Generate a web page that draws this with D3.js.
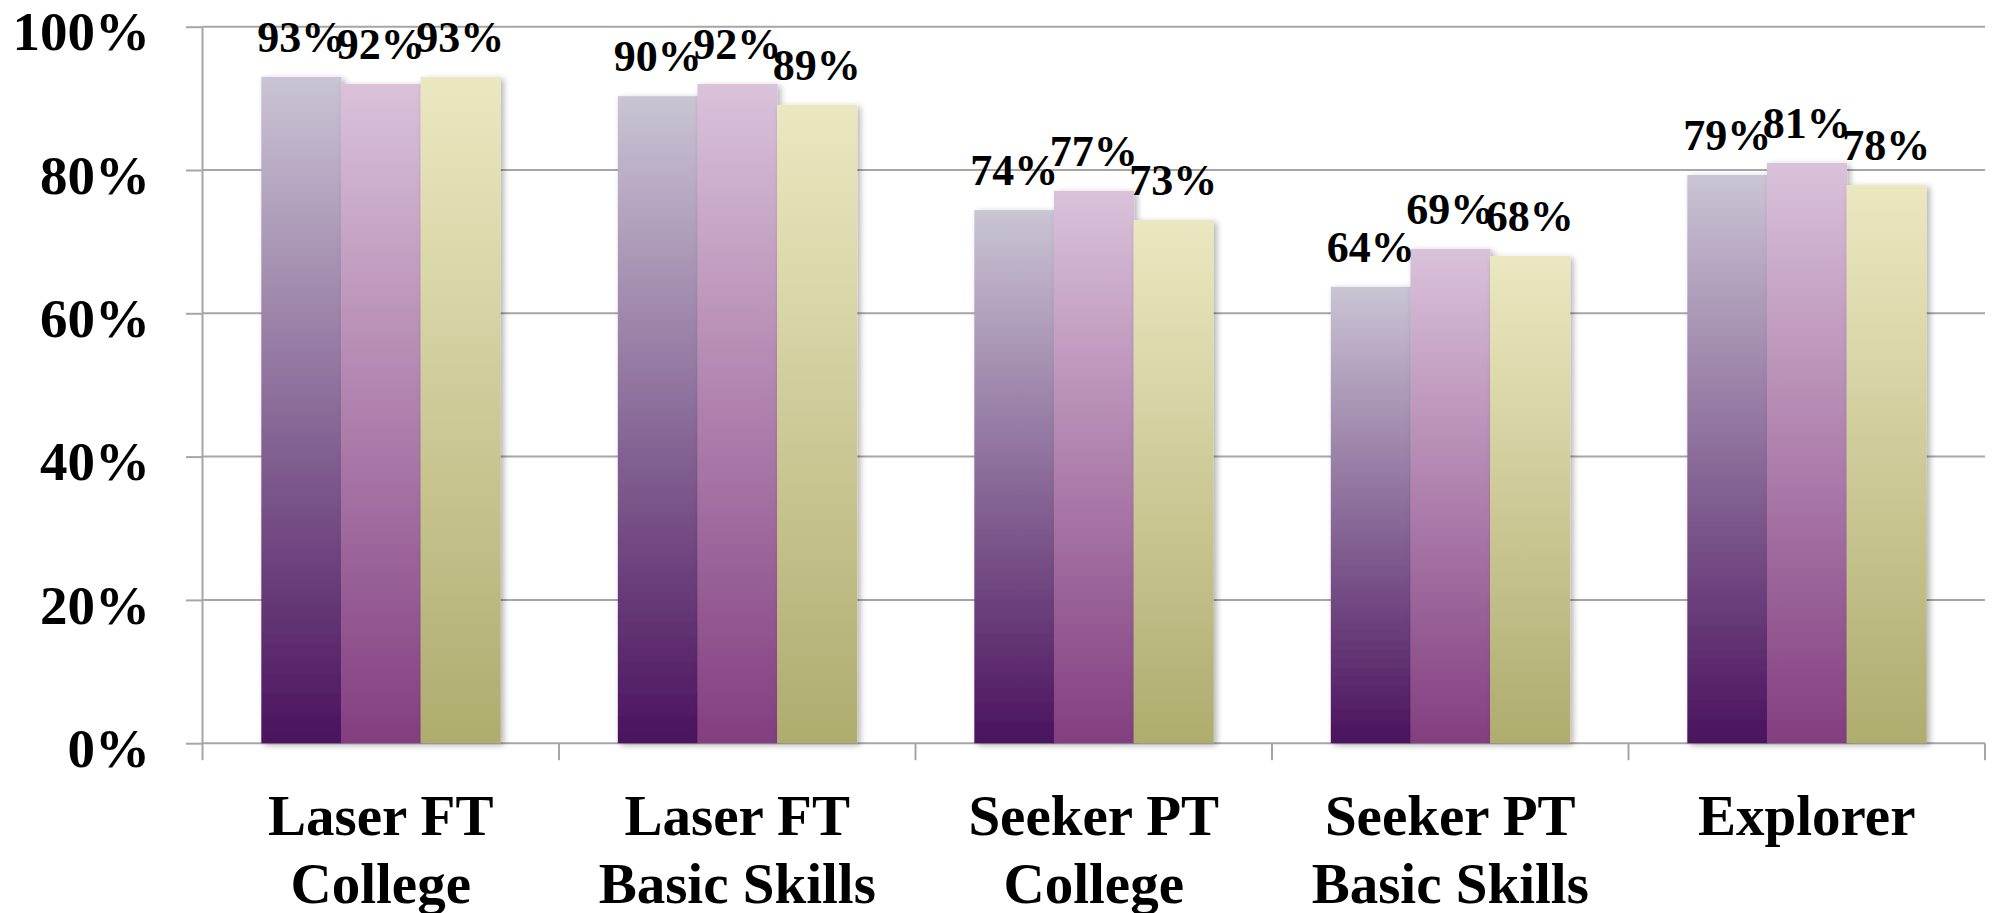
<!DOCTYPE html>
<html>
<head>
<meta charset="utf-8">
<script src="https://cdn.jsdelivr.net/npm/d3@7"></script>
<style>
  html, body { margin: 0; padding: 0; background: #fff; }
  text { font-family: 'Liberation Serif', 'Times New Roman', serif; font-weight: bold; fill: #000; }
</style>
</head>
<body>
<div id="chart"></div>
<script>
// categories and the three series
var categories = [['Laser FT', 'College'], ['Laser FT', 'Basic Skills'], ['Seeker PT', 'College'], ['Seeker PT', 'Basic Skills'], ['Explorer']]
var seriesNames = ['s1', 's2', 's3']
var series1 = [0.93, 0.903, 0.744, 0.637, 0.793]
var series2 = [0.92, 0.92, 0.771, 0.69, 0.81]
var series3 = [0.93, 0.891, 0.73, 0.68, 0.779]
var yTicks = [0, 0.2, 0.4, 0.6, 0.8, 1]

var colors = [
  { top: '#cac4d4', bottom: '#4a125d' },
  { top: '#dac2da', bottom: '#833e80' },
  { top: '#ebe8c1', bottom: '#afac6f' }
]

;(function () {
  var width = 1993
  var height = 913
  var plotLeft = 202.5
  var plotRight = 1985
  var plotTop = 26.7
  var plotBottom = 743.2

  var svg = d3.select('#chart')
    .append('svg')
    .attr('width', width)
    .attr('height', height)

  var defs = svg.append('defs')
  colors.forEach(function (c, i) {
    var g = defs.append('linearGradient')
      .attr('id', 'grad' + i)
      .attr('x1', 0).attr('y1', 0).attr('x2', 0).attr('y2', 1)
    g.append('stop').attr('offset', '0%').attr('stop-color', c.top)
    g.append('stop').attr('offset', '100%').attr('stop-color', c.bottom)
  })
  defs.append('filter')
    .attr('id', 'shadow')
    .attr('x', '-10%').attr('y', '-10%').attr('width', '130%').attr('height', '120%')
    .append('feDropShadow')
    .attr('dx', 3).attr('dy', 2).attr('stdDeviation', 3)
    .attr('flood-color', '#000').attr('flood-opacity', 0.3)

  var keys = categories.map(function (c) { return c.join(' ') })

  var x0 = d3.scaleBand()
    .domain(keys)
    .range([plotLeft, plotRight])
    .paddingInner(0.33)
    .paddingOuter(0.165)

  var x1 = d3.scaleBand()
    .domain(seriesNames)
    .range([0, x0.bandwidth()])

  var y = d3.scaleLinear()
    .domain([0, 1])
    .range([plotBottom, plotTop])

  // gridlines
  svg.append('g')
    .selectAll('line')
    .data(yTicks)
    .enter().append('line')
    .attr('x1', plotLeft)
    .attr('x2', plotRight)
    .attr('y1', d => y(d))
    .attr('y2', d => y(d))
    .attr('stroke', '#a6a6a6')
    .attr('stroke-width', 2)

  // y axis
  var yAxis = d3.axisLeft(y)
    .tickValues(yTicks)
    .tickFormat(d3.format('.0%'))
    .tickSize(16.5)
    .tickPadding(36)

  var yG = svg.append('g')
    .attr('transform', 'translate(' + plotLeft + ',0)')
    .call(yAxis)
  yG.select('.domain').remove()
  yG.selectAll('line').attr('stroke', '#a6a6a6').attr('stroke-width', 2)
  yG.selectAll('text')
    .attr('font-family', null)
    .attr('font-size', null)
    .style('font-size', '55px')
    .attr('dy', '0.42em')

  // y axis line, running down past the baseline
  svg.append('line')
    .attr('x1', plotLeft).attr('x2', plotLeft)
    .attr('y1', y(1)).attr('y2', y(0) + 17)
    .attr('stroke', '#a6a6a6')
    .attr('stroke-width', 2)

  // category boundary ticks
  var step = x0.step()
  var bounds = keys.map(function (k) { return x0(k) - step * x0.paddingInner() / 2 })
  bounds.push(plotRight)
  svg.append('g')
    .selectAll('line')
    .data(bounds.slice(1))
    .enter().append('line')
    .attr('x1', d => d).attr('x2', d => d)
    .attr('y1', y(0)).attr('y2', y(0) + 17)
    .attr('stroke', '#a6a6a6')
    .attr('stroke-width', 2)

  // bars
  var data = keys.map(function (k, i) {
    return { key: k, values: [series1[i], series2[i], series3[i]] }
  })

  var groups = svg.append('g')
    .selectAll('g')
    .data(data)
    .enter().append('g')
    .attr('transform', d => 'translate(' + x0(d.key) + ',0)')

  groups.selectAll('rect')
    .data(d => d.values.map(function (v, i) { return { s: seriesNames[i], i: i, v: v } }))
    .enter().append('rect')
    .attr('x', d => x1(d.s))
    .attr('y', d => y(d.v))
    .attr('width', x1.bandwidth() + 0.5)
    .attr('height', d => y(0) - y(d.v))
    .attr('fill', d => 'url(#grad' + d.i + ')')
    .attr('filter', 'url(#shadow)')

  groups.selectAll('text')
    .data(d => d.values.map(function (v, i) { return { s: seriesNames[i], v: v } }))
    .enter().append('text')
    .attr('x', d => x1(d.s) + x1.bandwidth() / 2)
    .attr('y', d => y(d.v) - 25)
    .attr('text-anchor', 'middle')
    .style('font-size', '44px')
    .text(d => Math.round(d.v * 100) + '%')

  // category labels
  var labels = svg.append('g')
    .selectAll('text')
    .data(categories)
    .enter().append('text')
    .attr('text-anchor', 'middle')
    .style('font-size', '57px')
    .attr('transform', (d, i) => 'translate(' + (x0(keys[i]) + x0.bandwidth() / 2) + ',835)')

  labels.selectAll('tspan')
    .data(d => d)
    .enter().append('tspan')
    .attr('x', 0)
    .attr('y', (d, i) => i * 68)
    .text(d => d)
})()
</script>
</body>
</html>
